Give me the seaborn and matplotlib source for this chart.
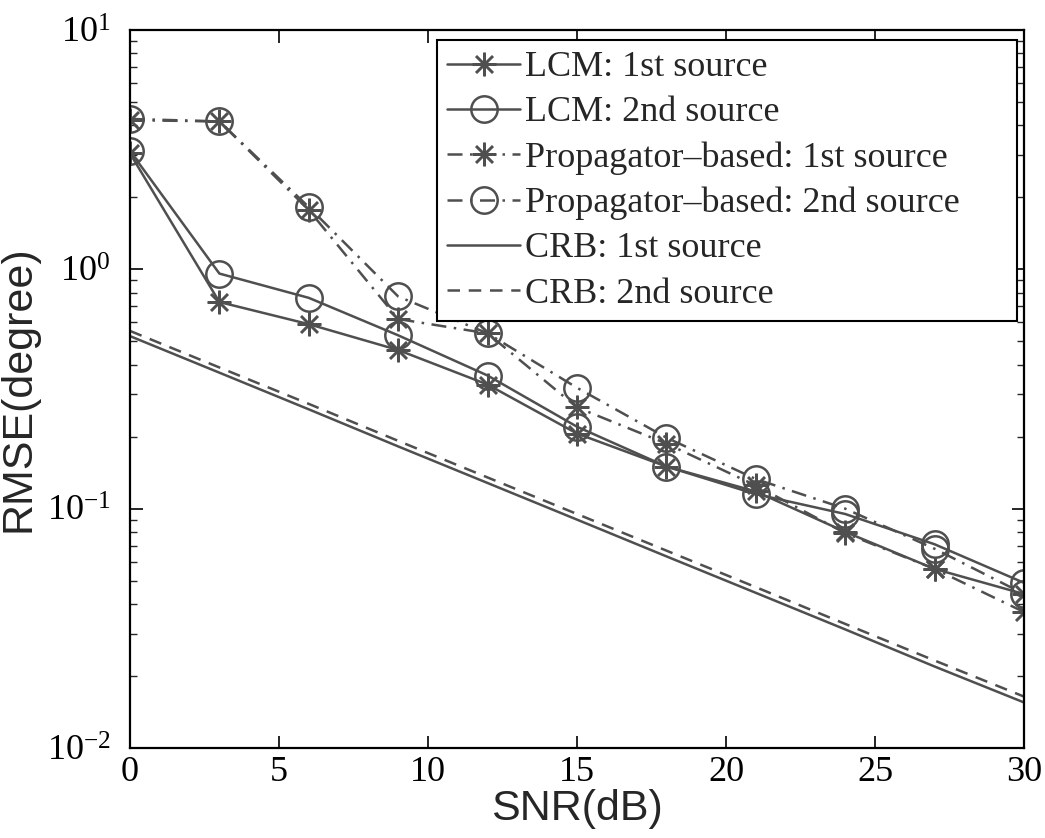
import numpy as np
import pandas as pd
import matplotlib
matplotlib.use("Agg")
import matplotlib.pyplot as plt
import seaborn as sns
from matplotlib.ticker import LogFormatterMathtext, LogLocator, FixedLocator

snr = [0, 3, 6, 9, 12, 15, 18, 21, 24, 27, 30]
lcm_1st = [3.05, 0.73, 0.59, 0.46, 0.33, 0.206, 0.15, 0.118, 0.080, 0.056, 0.044]
lcm_2nd = [3.12, 0.96, 0.76, 0.53, 0.36, 0.22, 0.15, 0.115, 0.095, 0.071, 0.049]
prop_1st = [4.2, 4.15, 1.77, 0.62, 0.54, 0.265, 0.187, 0.125, 0.079, 0.056, 0.037]
prop_2nd = [4.25, 4.15, 1.82, 0.77, 0.54, 0.32, 0.198, 0.133, 0.100, 0.068, 0.044]
crb_1st = [0.526, 0.370, 0.260, 0.182, 0.128, 0.090, 0.0632, 0.0445, 0.0313, 0.0219, 0.0155]
crb_2nd = [0.553, 0.389, 0.274, 0.192, 0.135, 0.095, 0.0668, 0.047, 0.033, 0.0232, 0.0164]
labels = ["LCM: 1st source", "LCM: 2nd source",
          "Propagator\u2013based: 1st source", "Propagator\u2013based: 2nd source",
          "CRB: 1st source", "CRB: 2nd source"]
xticks = [0, 5, 10, 15, 20, 25, 30]

sns.set_theme(style="ticks")
plt.rcParams["font.family"] = ["Liberation Serif", "DejaVu Serif"]
plt.rcParams["mathtext.fontset"] = "custom"
plt.rcParams["mathtext.rm"] = "Liberation Serif"
plt.rcParams["mathtext.it"] = "Liberation Serif:italic"
plt.rcParams["mathtext.default"] = "regular"

fig = plt.figure(figsize=(10.45, 8.38), dpi=100)
ax = fig.add_axes([0.1244, 0.1074, 0.8555, 0.8568])

col = "#4f4f4f"
lw = 1.8
ast = (8, 2, 0)

series = [
    (lcm_1st, dict(linestyle="-", marker=ast, markersize=17)),
    (lcm_2nd, dict(linestyle="-", marker="o", markersize=19, markerfacecolor="none")),
    (prop_1st, dict(linestyle="-.", marker=ast, markersize=17)),
    (prop_2nd, dict(linestyle="-.", marker="o", markersize=19, markerfacecolor="none")),
    (crb_1st, dict(linestyle="-")),
    (crb_2nd, dict(dashes=(5, 3.5))),
]
for (vals, kw), lab in zip(series, labels):
    df = pd.DataFrame({"snr": snr, "rmse": vals})
    kw2 = dict(kw)
    kw2.setdefault("markeredgecolor", col)
    sns.lineplot(data=df, x="snr", y="rmse", ax=ax, color=col, linewidth=lw,
                 markeredgewidth=lw, label=lab, **kw2)

for line in ax.get_lines()[2:4]:
    line.set_dashes((6, 3, 1, 3))

ax.set_yscale("log")
ax.set_xlim(0, 30)
ax.set_ylim(1e-2, 1e1)
ax.xaxis.set_major_locator(FixedLocator(xticks))
ax.yaxis.set_major_locator(LogLocator(base=10, numticks=10))
ax.yaxis.set_minor_locator(LogLocator(base=10, subs=np.arange(2, 10), numticks=20))
ax.yaxis.set_major_formatter(LogFormatterMathtext())
ax.tick_params(axis="both", which="major", direction="in", length=9, width=1.2,
               top=True, right=True, labelsize=26, colors="black", pad=14)
ax.tick_params(axis="y", which="minor", direction="in", length=5, width=1.0,
               left=True, right=True)
ax.tick_params(axis="x", which="major", pad=6)
for s in ax.spines.values():
    s.set_color("black")
    s.set_linewidth(1.6)

ax.set_xlabel("SNR(dB)", fontsize=31, family=["Liberation Sans", "DejaVu Sans"], labelpad=0)
ax.set_ylabel("RMSE(degree)", fontsize=31, family=["Liberation Sans", "DejaVu Sans"], labelpad=6)

leg = ax.legend(loc="upper left", bbox_to_anchor=(0.343, 0.599, 0.649, 0.387),
                mode="expand", borderaxespad=0,
                fontsize=26, frameon=True, fancybox=False, handlelength=2.0,
                handletextpad=0.15, labelspacing=0.33, borderpad=0.3, framealpha=1)
leg.get_frame().set_edgecolor("black")
leg.get_frame().set_linewidth(1.5)

fig.savefig("out.png", dpi=100, facecolor="white")
